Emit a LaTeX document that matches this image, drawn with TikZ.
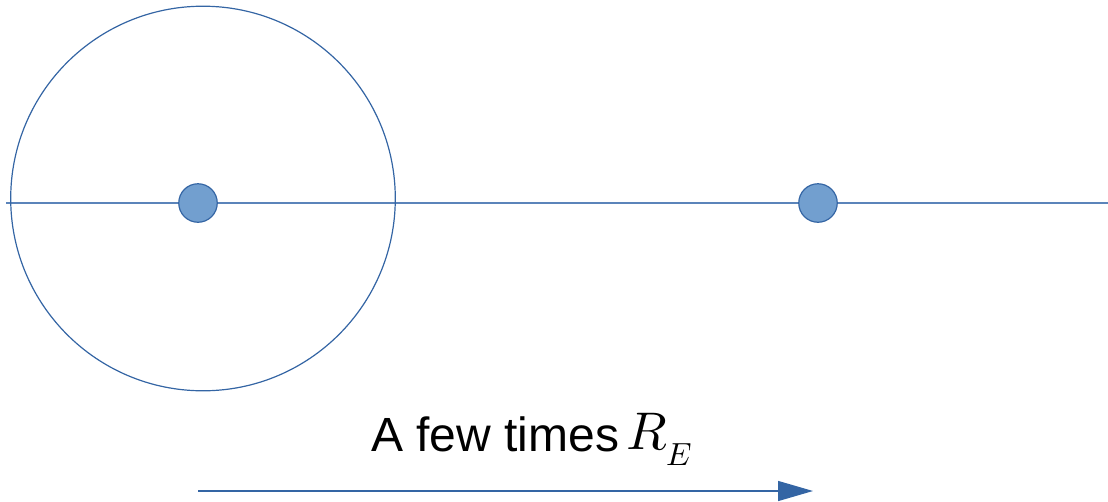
\documentclass[tikz,border=0pt]{standalone}
\usepackage{fontspec}
\setmainfont{Liberation Sans}
\newfontfamily\mathletters{Latin Modern Math}
\usetikzlibrary{arrows.meta}
\definecolor{lineblue}{HTML}{3465A4}
\definecolor{fillblue}{HTML}{729FCF}
\definecolor{axisblue}{HTML}{5B84BA}
\tikzset{
  body/.style={circle, draw=lineblue, fill=fillblue, line width=1.2pt, minimum size=38.5pt, inner sep=0pt},
  orbit/.style={draw=lineblue, line width=1.2pt},
  axis/.style={draw=axisblue, line width=1.8pt},
  scalearrow/.style={draw=lineblue, line width=1.4pt, -{Triangle[length=35pt,width=20pt]}}
}
\begin{document}
\begin{tikzpicture}[x=1pt,y=-1pt]
\useasboundingbox (0,0) rectangle (1108,501);
\coordinate (axL) at (6,203);
\coordinate (axR) at (1108,203);
\draw[axis] (axL) -- (axR);
\draw[orbit] (203,198.5) circle (192.3);
\node[body] (earth) at (198,203) {};
\node[body] (moon) at (818,203) {};
\node[anchor=base west, inner sep=0pt, font=\fontsize{48}{58}\selectfont] (label) at (371,451)
  {A few times\hspace{7pt}\raisebox{2pt}{\mathletters\fontsize{53}{60}\selectfont 𝑅}\hspace{0.5pt}\raisebox{-14pt}{\mathletters\fontsize{32}{36}\selectfont 𝐸}};
\coordinate (arS) at (198,491);
\coordinate (arE) at (813,491);
\draw[scalearrow] (arS) -- (arE);
\end{tikzpicture}
\end{document}
